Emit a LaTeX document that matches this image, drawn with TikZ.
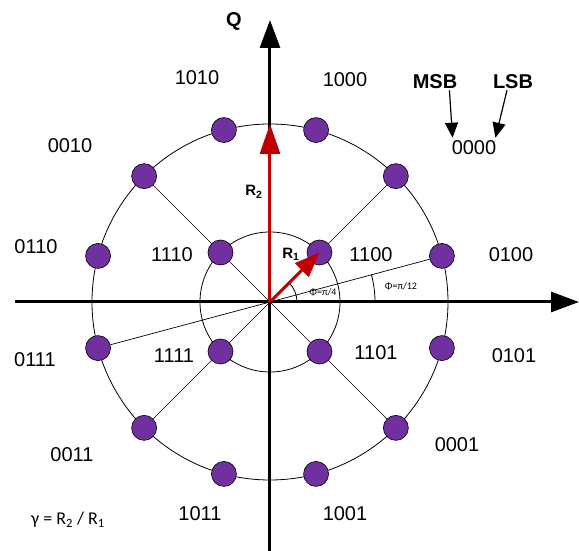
\documentclass[tikz,border=0pt]{standalone}
\usepackage{fontspec}
\setmainfont{Liberation Sans}
\newfontfamily\calfont{Carlito}
\usetikzlibrary{arrows.meta}
\definecolor{symPurple}{RGB}{112,48,160}
\definecolor{vecRed}{RGB}{192,0,0}

\begin{document}
\begin{tikzpicture}[x=1pt,y=1pt,
    every node/.append style={inner sep=1pt},
    qdot/.style={circle, draw=black, line width=0.6pt, fill=symPurple, minimum size=25pt, inner sep=0pt},
    axis/.style={line width=3pt, -{Triangle[length=28pt,width=20pt]}},
    vec/.style={vecRed, line width=3pt},
    code/.style={font=\fontsize{20}{22}\selectfont},
    bitname/.style={font=\fontsize{20}{22}\selectfont\bfseries},
    rlabel/.style={font=\fontsize{15}{17}\selectfont\bfseries},
    philabel/.style={font=\fontsize{10}{11}\selectfont\calfont}]
    \useasboundingbox (-270,-249) rectangle (309,302);
    \coordinate (O) at (0,0);
    \coordinate (topR) at (0,178);
    % rings and angles
    \draw[line width=0.8pt] (O) circle (70);
    \draw[line width=0.8pt] (O) circle (178);
    \draw[line width=0.8pt] (27,0) arc[start angle=0, end angle=45, radius=27];
    \draw[line width=0.8pt] (105,0) arc[start angle=0, end angle=15, radius=105];
    % axes
    \draw[axis] (-255,0) -- (309,0);
    \draw[axis] (0,-249) -- (0,282);
    \node[bitname] (qlab) at (-36,281) {Q};
    % symbols
    \foreach \a in {15,45,...,345} \node[qdot] (o\a) at (\a:178) {};
    \foreach \a in {45,135,225,315} \node[qdot] (i\a) at (\a:70) {};
    \foreach \a in {45,135,225,315} \draw[line width=0.7pt] (O) -- (i\a) -- (o\a);
    \draw[line width=0.7pt] (O) -- (o15);
    \draw[line width=0.7pt] (O) -- (o195);
    % radii
    \draw[vec, -{Triangle[length=30pt,width=20pt]}] (O) -- (topR);
    \draw[vec, -{Triangle[length=25pt,width=19pt]}] (O) -- (i45.center);
    \node[rlabel] (r2lab) at (-16,110) {R\textsubscript{2}};
    \node[rlabel] (r1lab) at (21,48) {R\textsubscript{1}};
    \node[philabel] (phi4) at (53,10) {Φ=π/4};
    \node[philabel] (phi12) at (131,16) {Φ=π/12};
    % codes
    \node[code] (c1010) at (-73,224) {1010};
    \node[code] (c1000) at (75,222) {1000};
    \node[code] (c0010) at (-200,156) {0010};
    \node[code] (c0110) at (-234,55) {0110};
    \node[code] (c1110) at (-98,47) {1110};
    \node[code] (c1100) at (101,47) {1100};
    \node[code] (c0100) at (241,47) {0100};
    \node[code] (c0111) at (-235,-58) {0111};
    \node[code] (c1111) at (-96,-54) {1111};
    \node[code] (c1101) at (106,-51) {1101};
    \node[code] (c0101) at (244,-54) {0101};
    \node[code] (c0011) at (-198,-153) {0011};
    \node[code] (c0001) at (187,-143) {0001};
    \node[code] (c1011) at (-70,-212) {1011};
    \node[code] (c1001) at (75,-212) {1001};
    \node[code] (c0000) at (204,154) {0000};
    \node[bitname] (msb) at (165,220) {MSB};
    \node[bitname] (lsb) at (243,220) {LSB};
    \draw[line width=1.2pt, -{Triangle[length=15pt,width=13pt]}] ([xshift=-9pt]msb.south east) -- ([xshift=2pt,yshift=2pt]c0000.north west);
    \draw[line width=1.2pt, -{Triangle[length=15pt,width=13pt]}] ([xshift=-6pt]lsb.south) -- ([xshift=-2pt,yshift=2pt]c0000.north east);
    \node[font=\fontsize{18}{20}\selectfont\calfont] (gam) at (-202,-218) {γ = R\textsubscript{2} / R\textsubscript{1}};
\end{tikzpicture}
\end{document}
